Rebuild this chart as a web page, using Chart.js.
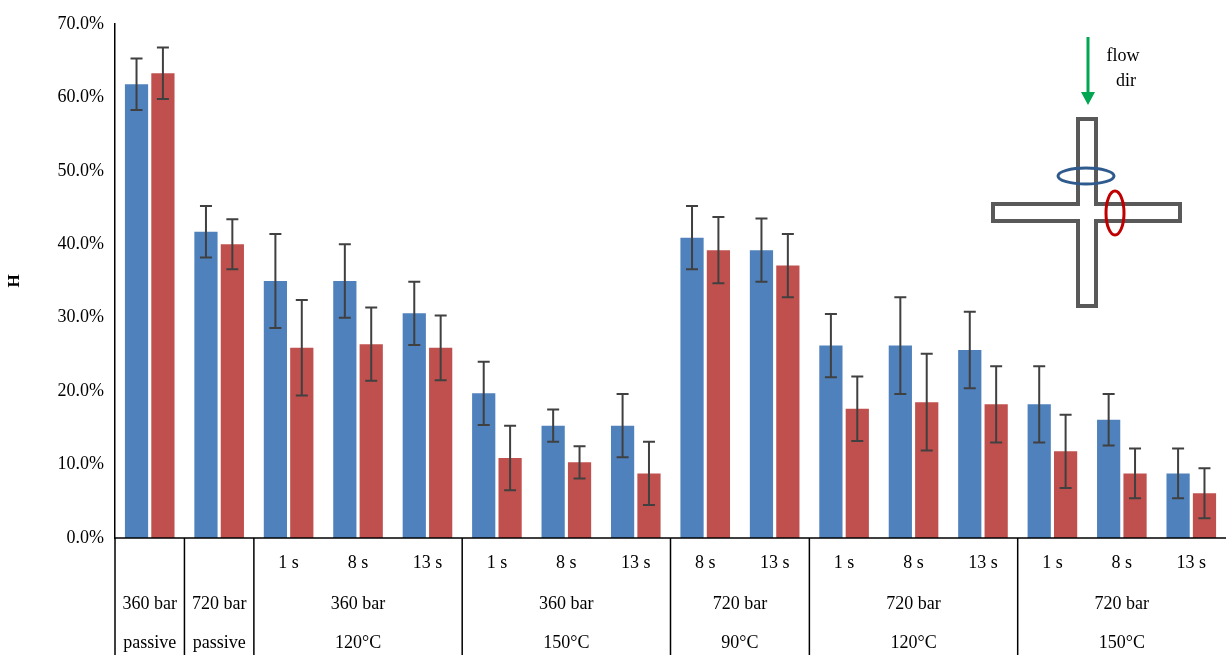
<!DOCTYPE html>
<html><head><meta charset="utf-8">
<script src="https://cdn.jsdelivr.net/npm/chart.js@4"></script>
<style>html,body{margin:0;padding:0;background:#fff;overflow:hidden}#c{display:block}</style>
</head><body>
<canvas id="c" width="1226" height="655"></canvas>
<script>
const categories = ["1","2","3","4","5","6","7","8","9","10","11","12","13","14","15","16"];
const blueValues = [61.8, 41.7, 35.0, 35.0, 30.6, 19.7, 15.3, 15.3, 40.9, 39.2, 26.2, 26.2, 25.6, 18.2, 16.1, 8.8];
const blueErrors = [3.5, 3.5, 6.4, 5.0, 4.3, 4.3, 2.2, 4.3, 4.3, 4.3, 4.3, 6.6, 5.2, 5.2, 3.5, 3.4];
const redValues = [63.3, 40.0, 25.9, 26.4, 25.9, 10.9, 10.3, 8.8, 39.2, 37.1, 17.6, 18.5, 18.2, 11.8, 8.8, 6.1];
const redErrors = [3.5, 3.4, 6.5, 5.0, 4.4, 4.4, 2.2, 4.3, 4.5, 4.3, 4.4, 6.6, 5.2, 5.0, 3.4, 3.4];
const timeLabels = ["", "", "1 s", "8 s", "13 s", "1 s", "8 s", "13 s", "8 s", "13 s", "1 s", "8 s", "13 s", "1 s", "8 s", "13 s"];
// groups: [first index, last index, pressure, condition]
const groups = [
  [0, 0, "360 bar", "passive"], [1, 1, "720 bar", "passive"],
  [2, 4, "360 bar", "120°C"], [5, 7, "360 bar", "150°C"],
  [8, 9, "720 bar", "90°C"], [10, 12, "720 bar", "120°C"], [13, 15, "720 bar", "150°C"]
];
const FONT = "'Liberation Serif', 'DejaVu Serif', serif";

const extras = {
  id: "extras",
  afterDatasetsDraw(chart) {
    const ctx = chart.ctx, x = chart.scales.x, y = chart.scales.y;
    ctx.save();
    // error bars
    ctx.strokeStyle = "#404040"; ctx.lineWidth = 2;
    [[blueValues, blueErrors], [redValues, redErrors]].forEach(([vals, errs], di) => {
      chart.getDatasetMeta(di).data.forEach((bar, i) => {
        const top = y.getPixelForValue(vals[i] + errs[i]);
        const bot = y.getPixelForValue(vals[i] - errs[i]);
        ctx.beginPath();
        ctx.moveTo(bar.x, top); ctx.lineTo(bar.x, bot);
        ctx.moveTo(bar.x - 6, top); ctx.lineTo(bar.x + 6, top);
        ctx.moveTo(bar.x - 6, bot); ctx.lineTo(bar.x + 6, bot);
        ctx.stroke();
      });
    });
    // category table
    const base = y.bottom, H = chart.height;
    const step = (x.getPixelForValue(1) - x.getPixelForValue(0));
    const edge = i => x.getPixelForValue(i) - step / 2;
    ctx.strokeStyle = "#000"; ctx.lineWidth = 1.5;
    ctx.beginPath();
    ctx.moveTo(x.left, base); ctx.lineTo(x.right, base);
    ctx.moveTo(x.left, base); ctx.lineTo(x.left, H);
    ctx.moveTo(edge(1), base); ctx.lineTo(edge(1), H);
    groups.forEach(g => { if (g[0] > 1) { ctx.moveTo(edge(g[0]), base); ctx.lineTo(edge(g[0]), H); } });
    ctx.stroke();
    ctx.fillStyle = "#000"; ctx.font = "18px " + FONT;
    ctx.textAlign = "center"; ctx.textBaseline = "middle";
    timeLabels.forEach((t, i) => { if (t) ctx.fillText(t, x.getPixelForValue(i), base + 25); });
    groups.forEach(g => {
      const cx = (x.getPixelForValue(g[0]) + x.getPixelForValue(g[1])) / 2;
      ctx.fillText(g[2], cx, base + 66);
      ctx.fillText(g[3], cx, base + 105);
    });
    // inset diagram
    ctx.strokeStyle = "#00a651"; ctx.fillStyle = "#00a651"; ctx.lineWidth = 3;
    ctx.beginPath(); ctx.moveTo(1088, 37); ctx.lineTo(1088, 94); ctx.stroke();
    ctx.beginPath(); ctx.moveTo(1081, 92); ctx.lineTo(1095, 92); ctx.lineTo(1088, 105); ctx.closePath(); ctx.fill();
    ctx.fillStyle = "#000"; ctx.font = "18px " + FONT;
    ctx.fillText("flow", 1123, 56); ctx.fillText("dir", 1126, 81);
    ctx.strokeStyle = "#595959"; ctx.lineWidth = 4; ctx.fillStyle = "#fff";
    ctx.beginPath();
    ctx.moveTo(1078, 119); ctx.lineTo(1096, 119); ctx.lineTo(1096, 204); ctx.lineTo(1180, 204);
    ctx.lineTo(1180, 221); ctx.lineTo(1096, 221); ctx.lineTo(1096, 306); ctx.lineTo(1078, 306);
    ctx.lineTo(1078, 221); ctx.lineTo(993, 221); ctx.lineTo(993, 204); ctx.lineTo(1078, 204);
    ctx.closePath(); ctx.fill(); ctx.stroke();
    ctx.lineWidth = 3;
    ctx.strokeStyle = "#2e5a8e";
    ctx.beginPath(); ctx.ellipse(1086, 176, 28, 8, 0, 0, Math.PI * 2); ctx.stroke();
    ctx.strokeStyle = "#c00000";
    ctx.beginPath(); ctx.ellipse(1115, 213, 9, 22, 0, 0, Math.PI * 2); ctx.stroke();
    ctx.restore();
  }
};

new Chart(document.getElementById("c"), {
  type: "bar",
  data: {
    labels: categories,
    datasets: [
      { data: blueValues, backgroundColor: "#4f81bd", categoryPercentage: 0.76, barPercentage: 0.88 },
      { data: redValues, backgroundColor: "#c0504d", categoryPercentage: 0.76, barPercentage: 0.88 }
    ]
  },
  options: {
    responsive: false, animation: false,
    layout: { padding: { top: 24, bottom: 109, right: 0, left: 0 } },
    plugins: { legend: { display: false }, tooltip: { enabled: false } },
    scales: {
      x: {
        ticks: { display: false }, grid: { display: false }, border: { display: false },
        // the source plot area runs past the right edge of the picture
        afterSetDimensions: s => { s.right = 1236; s.width = s.right - s.left; }
      },
      y: {
        min: 0, max: 70,
        afterFit: s => { s.width = 115; },
        ticks: { stepSize: 10, color: "#000", font: { family: FONT, size: 18 }, callback: v => v.toFixed(1) + "%" },
        grid: { display: false, drawTicks: true },
        border: { color: "#000", width: 1.5 },
        title: { display: true, text: "H", color: "#000", font: { family: FONT, size: 17, weight: "bold" } }
      }
    }
  },
  plugins: [extras]
});
</script>
</body></html>
